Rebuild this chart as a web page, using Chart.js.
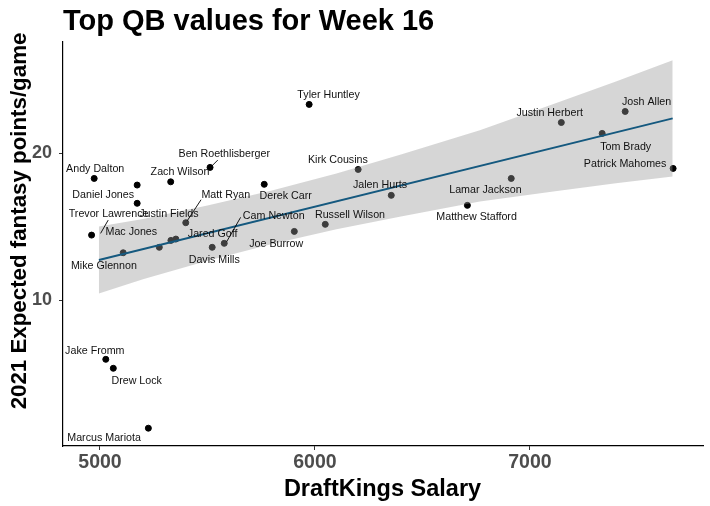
<!DOCTYPE html>
<html><head><meta charset="utf-8">
<script src="https://cdn.jsdelivr.net/npm/chart.js@4.4.1/dist/chart.umd.min.js"></script>
<style>html,body{margin:0;padding:0;background:#fff}</style>
</head><body>
<canvas id="c" width="710" height="506"></canvas>
<script>
// ---- data ----
const players = ["Andy Dalton","Trevor Lawrence","Daniel Jones","Justin Fields","Mike Glennon","Mac Jones","","Jared Goff","Zach Wilson","Ben Roethlisberger","Matt Ryan","Davis Mills","Cam Newton","Derek Carr","Joe Burrow","Tyler Huntley","Kirk Cousins","Jalen Hurts","Russell Wilson","Matthew Stafford","Lamar Jackson","Justin Herbert","Josh Allen","Tom Brady","Patrick Mahomes","Jake Fromm","Drew Lock","Marcus Mariota"];
const salary  = [4973,4961,5173,5173,5108,5276,5330,5353,5329,5512,5399,5522,5578,5764,5904,5973,6201,6355,6048,6709,6913,7146,7443,7336,7666,5027,5062,5225];
const xfp     = [18.28,14.43,17.83,16.59,13.23,13.60,14.07,14.16,18.05,19.03,15.27,13.60,13.87,17.88,14.68,23.31,18.89,17.13,15.16,16.45,18.28,22.08,22.83,21.34,18.96,5.99,5.38,1.31];
const xTicks = [5000,6000,7000];
const yTicks = [10,20];
const fitSalary = [4995,7664];
const fitValue  = [12.74,22.36];
const bandSalary = [4995,5200,5500,5800,6100,6400,6767,7100,7400,7664];
const bandLow    = [10.46,11.43,12.68,13.82,14.82,15.70,16.71,17.38,17.96,18.41];
const bandHigh   = [15.02,15.53,16.44,17.46,18.62,19.90,21.55,23.28,24.86,26.31];

// ---- label layout (pixel offsets from each point; seg = leader line) ----
const labelLayout = {
 "Andy Dalton":[1,-9],
 "Trevor Lawrence":[17,-20.7,[16.6,-15,9,-1.7]],
 "Daniel Jones":[-34,10],
 "Justin Fields":[31.7,11],
 "Mike Glennon":[-19.3,13.3],
 "Mac Jones":[-28,-15],
 "Jared Goff":[36.8,-4.7],
 "Zach Wilson":[9.3,-9.4],
 "Ben Roethlisberger":[14.2,-13.3,[7.7,-7.3,1.7,-1.3]],
 "Matt Ryan":[40,-27.7,[15.3,-23,1.5,-2]],
 "Davis Mills":[2,12.7],
 "Cam Newton":[49.5,-27,[16.4,-26,2.4,-1.6]],
 "Derek Carr":[21.5,12],
 "Joe Burrow":[-18.1,12.7],
 "Tyler Huntley":[19.4,-9.3],
 "Kirk Cousins":[-20.3,-9.3],
 "Jalen Hurts":[-11.3,-10],
 "Russell Wilson":[24.7,-9],
 "Matthew Stafford":[9.2,11.7],
 "Lamar Jackson":[-25.8,11.7],
 "Justin Herbert":[-11.6,-9.3],
 "Josh Allen":[21.4,-9],
 "Tom Brady":[23.5,13.4],
 "Patrick Mahomes":[-48,-4],
 "Jake Fromm":[-11,-8.6],
 "Drew Lock":[23.4,12.4],
 "Marcus Mariota":[-44.3,10]
};

const FAM = '"Liberation Sans", Arial, Helvetica, sans-serif';

const pointData = salary.map((s,i)=>({x:s,y:xfp[i]}));
const lowData = bandSalary.map((s,i)=>({x:s,y:bandLow[i]}));
const highData = bandSalary.map((s,i)=>({x:s,y:bandHigh[i]}));
const fitData = fitSalary.map((s,i)=>({x:s,y:fitValue[i]}));

const textPlugin = {
  id:'texts',
  afterDatasetsDraw(chart){
    const ctx = chart.ctx;
    const meta = chart.getDatasetMeta(0);
    ctx.save();
    ctx.font = '10.7px ' + FAM;
    ctx.fillStyle = '#111';
    ctx.strokeStyle = '#000';
    ctx.lineWidth = 0.9;
    ctx.textAlign = 'center';
    ctx.textBaseline = 'middle';
    players.forEach((name,i)=>{
      const lay = labelLayout[name];
      if(!name || !lay) return;
      const p = meta.data[i];
      if(lay[2]){
        const s = lay[2];
        ctx.beginPath();
        ctx.moveTo(p.x+s[0], p.y+s[1]);
        ctx.lineTo(p.x+s[2], p.y+s[3]);
        ctx.stroke();
      }
      ctx.fillText(name, p.x+lay[0], p.y+lay[1]);
    });
    ctx.restore();
  },
  afterDraw(chart){
    const ctx = chart.ctx, a = chart.chartArea;
    ctx.save();
    ctx.fillStyle = '#000';
    ctx.textBaseline = 'alphabetic';
    ctx.font = 'bold 29px ' + FAM;
    ctx.textAlign = 'left';
    ctx.fillText('Top QB values for Week 16', a.left, 30);
    ctx.font = 'bold 23.5px ' + FAM;
    ctx.textAlign = 'center';
    ctx.fillText('DraftKings Salary', (a.left+a.right)/2 - 0.5, 496);
    ctx.translate(26, 221);
    ctx.rotate(-Math.PI/2);
    ctx.font = 'bold 22.3px ' + FAM;
    ctx.fillText('2021 Expected fantasy points/game', 0, 0);
    ctx.restore();
  }
};

new Chart(document.getElementById('c'), {
  type:'scatter',
  data:{datasets:[
    {label:'players', data:pointData, backgroundColor:'#000', borderColor:'#000', pointRadius:3, pointHoverRadius:3, order:3},
    {type:'line', label:'low', data:lowData, borderWidth:0, borderColor:'rgba(0,0,0,0)', pointRadius:0, fill:false, order:2, tension:0},
    {type:'line', label:'high', data:highData, borderWidth:0, borderColor:'rgba(0,0,0,0)', pointRadius:0, fill:'-1', backgroundColor:'rgba(153,153,153,0.4)', order:2, tension:0},
    {type:'line', label:'fit', data:fitData, borderWidth:2, borderColor:'#15597f', pointRadius:0, fill:false, order:1}
  ]},
  options:{
    responsive:false, animation:false, devicePixelRatio:1,
    layout:{padding:{top:42,right:7,left:0,bottom:0}},
    plugins:{legend:{display:false}, tooltip:{enabled:false}, title:{display:false}},
    scales:{
      x:{type:'linear', min:4828, max:7805,
        afterBuildTicks:s=>{s.ticks = xTicks.map(v=>({value:v}));},
        afterFit:s=>{s.height = 60;},
        grid:{drawOnChartArea:false, drawTicks:true, tickLength:4, color:'#333', lineWidth:1},
        border:{display:true, color:'#000', width:1.2},
        ticks:{callback:v=>String(v), font:{family:FAM, size:19.5, weight:'bold'}, color:'#4d4d4d', padding:1, maxRotation:0, autoSkip:false}
      },
      y:{type:'linear', min:0.1, max:27.55,
        afterBuildTicks:s=>{s.ticks = yTicks.map(v=>({value:v}));},
        afterFit:s=>{s.width = 63;},
        grid:{drawOnChartArea:false, drawTicks:true, tickLength:4, color:'#333', lineWidth:1},
        border:{display:true, color:'#000', width:1.2},
        ticks:{callback:v=>String(v), font:{family:FAM, size:18, weight:'bold'}, color:'#4d4d4d', padding:7, autoSkip:false}
      }
    }
  },
  plugins:[textPlugin]
});
</script>
</body></html>
